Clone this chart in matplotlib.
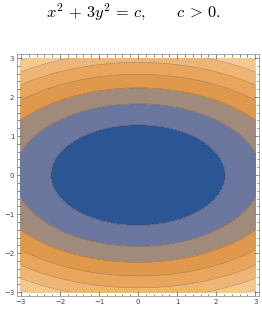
import matplotlib
matplotlib.use('Agg')
import matplotlib.pyplot as plt
import numpy as np
from matplotlib.ticker import MultipleLocator

plt.rcParams['mathtext.fontset'] = 'cm'

# contour levels of f(x, y) = x^2 + 3y^2 and the band colours
levels = [0, 5, 10, 15, 20, 25, 30, 35, 36]
bandColors = ['#2c5693', '#6c779f', '#a08a7b', '#e0994c',
              '#e9a55c', '#efb574', '#f4c98e', '#f9e0b0']
xRange = [-3, 3]
yRange = [-3, 3]
tickValues = [-3, -2, -1, 0, 1, 2, 3]

xs = np.linspace(xRange[0], xRange[1], 400)
ys = np.linspace(yRange[0], yRange[1], 400)
X, Y = np.meshgrid(xs, ys)
Z = X ** 2 + 3 * Y ** 2

fig = plt.figure(figsize=(2.62, 3.11), dpi=100)
fig.text(0.508, 0.962, r'$x^2 \,+\, 3y^2 \,=\, c, \qquad c \,>\, 0.$',
         ha='center', va='center', fontsize=11.8)

ax = fig.add_axes([0.065, 0.048, 0.924, 0.778])
ax.contourf(X, Y, Z, levels=levels, colors=bandColors)
ax.contour(X, Y, Z, levels=levels[1:-1], colors='#5a4a3a', linewidths=0.4, alpha=0.5)

ax.set_xlim(-3.1, 3.1)
ax.set_ylim(-3.1, 3.1)
ax.set_xticks(tickValues)
ax.set_yticks(tickValues)
ax.xaxis.set_minor_locator(MultipleLocator(0.2))
ax.yaxis.set_minor_locator(MultipleLocator(0.2))
ax.tick_params(which='both', direction='in', top=True, right=True, color='#777777', width=0.6)
ax.tick_params(which='major', length=3.5, labelsize=5, labelcolor='#444444', pad=2)
ax.tick_params(which='minor', length=1.8)
for spine in ax.spines.values():
    spine.set_color('#999999')
    spine.set_linewidth(0.6)

fig.savefig('out.png', dpi=100)
